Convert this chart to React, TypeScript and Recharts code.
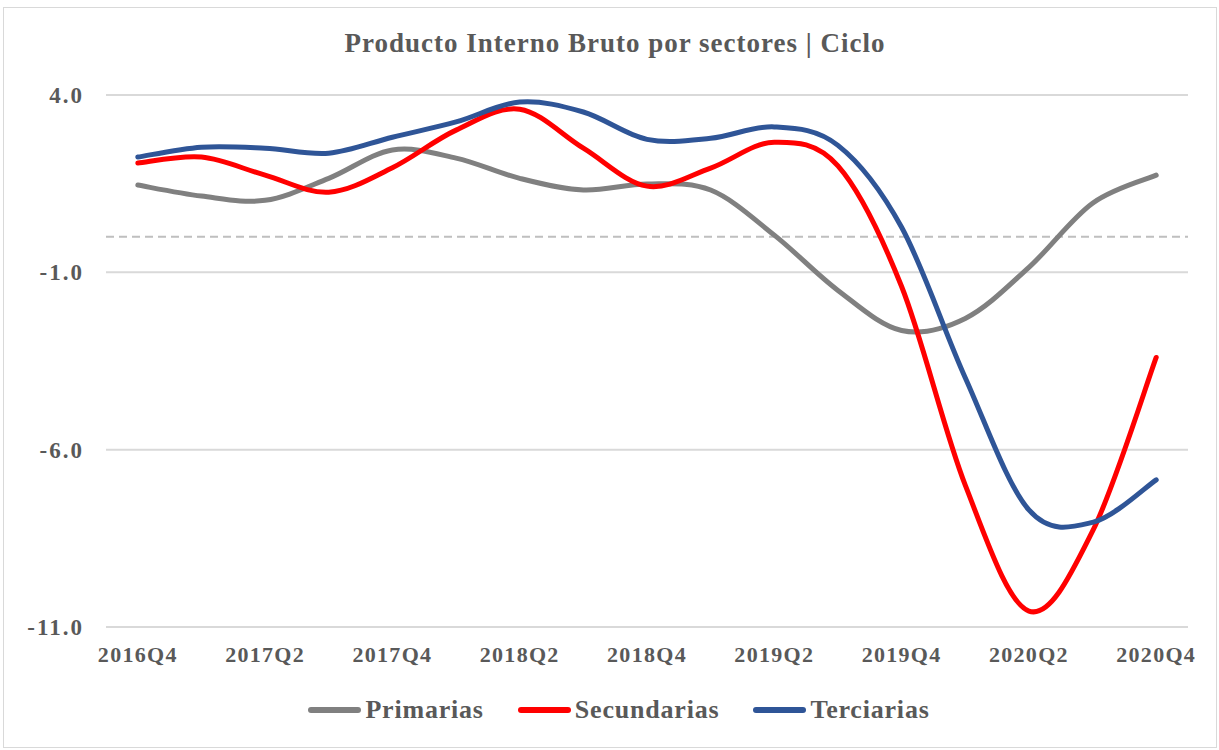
import React from 'react';
import {
  LineChart,
  Line,
  XAxis,
  YAxis,
  CartesianGrid,
  ReferenceLine
} from 'recharts';

const quarters = [
  '2016Q4', '2017Q1', '2017Q2', '2017Q3', '2017Q4',
  '2018Q1', '2018Q2', '2018Q3', '2018Q4',
  '2019Q1', '2019Q2', '2019Q3', '2019Q4',
  '2020Q1', '2020Q2', '2020Q3', '2020Q4'
];

const primarias = [1.46, 1.15, 1.03, 1.65, 2.45, 2.22, 1.65, 1.32, 1.49, 1.32, 0.05, -1.51, -2.64, -2.3, -0.86, 0.95, 1.74];
const secundarias = [2.08, 2.25, 1.74, 1.26, 1.95, 3.01, 3.6, 2.5, 1.43, 1.94, 2.67, 2.0, -1.4, -7.0, -10.55, -8.3, -3.4];
const terciarias = [2.25, 2.53, 2.5, 2.36, 2.81, 3.24, 3.8, 3.52, 2.75, 2.78, 3.1, 2.58, 0.27, -3.97, -7.7, -8.05, -6.85];

const yTicks = [-11, -6, -1, 4];

const series = [
  { key: 'Primarias', color: '#808080' },
  { key: 'Secundarias', color: '#ff0000' },
  { key: 'Terciarias', color: '#2f5597' }
];

const FONT = '"Liberation Serif", "DejaVu Serif", serif';
const TEXT = '#595959';

const data = quarters.map((q, i) => ({
  q,
  Primarias: primarias[i],
  Secundarias: secundarias[i],
  Terciarias: terciarias[i]
}));

// suavizado tipo Excel (Catmull-Rom) como curve factory de d3
const smoothCurve: any = (context: any) => {
  let pts: number[][] = [];
  return {
    areaStart() {},
    areaEnd() {},
    lineStart() {
      pts = [];
    },
    point(x: number, y: number) {
      pts.push([+x, +y]);
    },
    lineEnd() {
      if (!pts.length) return;
      context.moveTo(pts[0][0], pts[0][1]);
      for (let i = 0; i < pts.length - 1; i++) {
        const p0 = pts[i - 1] || pts[i];
        const p1 = pts[i];
        const p2 = pts[i + 1];
        const p3 = pts[i + 2] || p2;
        context.bezierCurveTo(
          p1[0] + (p2[0] - p0[0]) / 6,
          p1[1] + (p2[1] - p0[1]) / 6,
          p2[0] - (p3[0] - p1[0]) / 6,
          p2[1] - (p3[1] - p1[1]) / 6,
          p2[0],
          p2[1]
        );
      }
    }
  };
};

const App: React.FC = () => {
  return (
    <div style={{ position: 'absolute', left: 0, top: 0, width: 1219, height: 750, background: '#fff' }}>
      <div
        style={{
          position: 'absolute',
          left: 3,
          top: 7,
          width: 1214,
          height: 741,
          border: '1px solid #d9d9d9',
          boxSizing: 'border-box'
        }}
      />
      <div
        style={{
          position: 'absolute',
          left: 0,
          top: 28,
          width: 1230,
          textAlign: 'center',
          fontFamily: FONT,
          fontWeight: 'bold',
          fontSize: 27,
          letterSpacing: 1,
          color: TEXT
        }}
      >
        Producto Interno Bruto por sectores | Ciclo
      </div>
      <LineChart
        width={1219}
        height={750}
        data={data}
        margin={{ top: 95, right: 31, left: 26, bottom: 73 }}
        style={{ position: 'absolute', left: 0, top: 0 }}
      >
        <CartesianGrid vertical={false} stroke="#d9d9d9" strokeWidth={2} />
        <XAxis
          dataKey="q"
          axisLine={false}
          tickLine={false}
          tickSize={0}
          tickMargin={19}
          interval={1}
          height={50}
          padding={{ left: 31.8, right: 31.8 }}
          tick={{ fill: TEXT, fontSize: 22, fontWeight: 'bold', fontFamily: FONT, letterSpacing: 1.3 }}
        />
        <YAxis
          domain={[-11, 4]}
          ticks={yTicks}
          allowDataOverflow
          axisLine={false}
          tickLine={false}
          tickSize={0}
          tickMargin={22}
          width={80}
          tickFormatter={(v: number) => v.toFixed(1)}
          tick={{ fill: TEXT, fontSize: 23, fontWeight: 'bold', fontFamily: FONT, letterSpacing: 2 }}
        />
        <ReferenceLine y={0} stroke="#bfbfbf" strokeWidth={2} strokeDasharray="8 5" />
        {series.map((s) => (
          <Line
            key={s.key}
            type={smoothCurve}
            dataKey={s.key}
            stroke={s.color}
            strokeWidth={5}
            strokeLinecap="round"
            dot={false}
            isAnimationActive={false}
          />
        ))}
      </LineChart>
      {/* leyenda propia, centrada bajo el gráfico */}
      <div
        style={{
          position: 'absolute',
          left: 0,
          top: 695,
          width: 1238,
          display: 'flex',
          justifyContent: 'center',
          gap: 34,
          fontFamily: FONT
        }}
      >
        {series.map((s) => (
          <div key={s.key} style={{ display: 'flex', alignItems: 'center' }}>
            <div style={{ width: 53, height: 6, background: s.color, borderRadius: 3, marginRight: 4 }} />
            <span style={{ fontSize: 26, fontWeight: 'bold', letterSpacing: 0.8, color: TEXT }}>{s.key}</span>
          </div>
        ))}
      </div>
    </div>
  );
};

export default App;
